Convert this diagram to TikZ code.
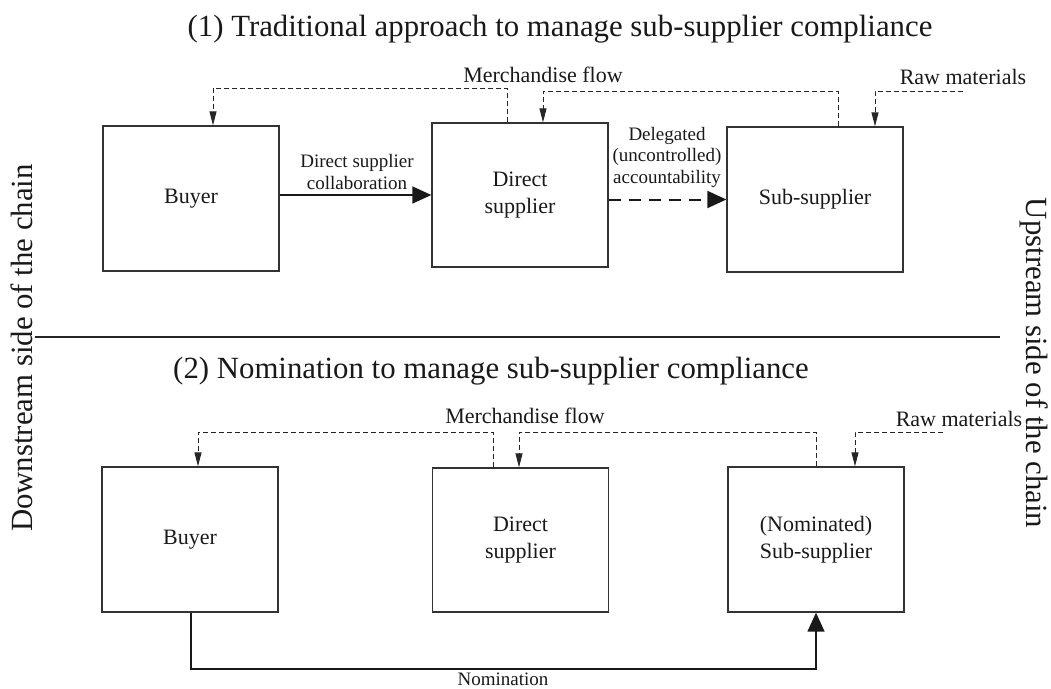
\documentclass[tikz,border=0pt]{standalone}
\usepackage{fontspec}
\setmainfont{Liberation Serif}
\usetikzlibrary{arrows.meta}
\begin{document}
\begin{tikzpicture}[x=1pt,y=-1pt,
  box/.style={draw=black!80, line width=1.3pt, minimum width=176pt, minimum height=145pt,
    inner sep=0pt, align=center, text=black!90, font=\fontsize{22}{27}\selectfont},
  merch/.style={draw=black!85, line width=1pt, dash pattern=on 5pt off 3pt,
    -{Triangle[length=14pt,width=7pt]}},
  rawline/.style={draw=black!85, line width=1pt, dash pattern=on 5pt off 3pt,
    -{Triangle[length=14pt,width=7pt]}},
  solidarr/.style={draw=black!90, line width=1.5pt, -{Triangle[length=19pt,width=17pt]}},
  dasharr/.style={draw=black!90, line width=2pt, dash pattern=on 12pt off 8pt,
    -{Triangle[length=19pt,width=17pt]}},
  lbl/.style={align=center, inner sep=0pt, text=black!90, font=\fontsize{19}{21.5}\selectfont},
  mlbl/.style={inner sep=0pt, text=black!90, font=\fontsize{22}{26}\selectfont},
  ttl/.style={inner sep=0pt, text=black!90, font=\fontsize{30.8}{36}\selectfont},
]
\useasboundingbox (0,0) rectangle (1051,688);

% titles
\node[ttl] (t1) at (560,29) {(1) Traditional approach to manage sub-supplier compliance};
\node[ttl] (t2) at (491,371) {(2) Nomination to manage sub-supplier compliance};

% side labels
\node[ttl, rotate=90] (down) at (22,348) {Downstream side of the chain};
\node[ttl, rotate=-90] (up) at (1034,363) {Upstream side of the chain};

% separator
\coordinate (sepL) at (35,337);
\coordinate (sepR) at (1000,337);
\draw[line width=1.2pt, black!85] (sepL) -- (sepR);

% ---- part 1 ----
\node[box] (b1) at (191,198.5) {Buyer};
\node[box, minimum height=144pt] (d1) at (520,195) {Direct\\supplier};
\node[box] (s1) at (815,199.5) {Sub-supplier};

\draw[solidarr] (b1.east |- d1.center) -- (d1.west |- d1.center);
\draw[dasharr] (d1.east |- s1.center) -- (s1.west);

\node[lbl] (l1) at (357,172) {Direct supplier\\collaboration};
\node[lbl] (l2) at (667,157) {Delegated\\(uncontrolled)\\accountability};

\coordinate (a1) at (507,88);
\coordinate (a2) at (213,88);
\draw[merch] (a1 |- d1.north) -- (a1) -- (a2) -- (a2 |- b1.north);
\coordinate (a3) at (838,91);
\coordinate (a4) at (543,91);
\draw[merch] (a3 |- s1.north) -- (a3) -- (a4) -- (a4 |- d1.north);
\coordinate (r1) at (963,91);
\coordinate (r2) at (875,91);
\draw[rawline] (r1) -- (r2) -- (r2 |- s1.north);

\node[mlbl] (m1) at (543,75) {Merchandise flow};
\node[mlbl] (rm1) at (963,77) {Raw materials};

% ---- part 2 ----
\node[box] (b2) at (190,539.5) {Buyer};
\node[box, minimum height=144pt] (d2) at (520.5,540) {Direct\\supplier};
\node[box] (s2) at (816,539.5) {(Nominated)\\Sub-supplier};

\coordinate (c1) at (493,432);
\coordinate (c2) at (198,432);
\draw[merch] (c1 |- d2.north) -- (c1) -- (c2) -- (c2 |- b2.north);
\coordinate (c3) at (816,432);
\coordinate (c4) at (519,432);
\draw[merch] (c3 |- s2.north) -- (c3) -- (c4) -- (c4 |- d2.north);
\coordinate (q1) at (943,432);
\coordinate (q2) at (855,432);
\draw[rawline] (q1) -- (q2) -- (q2 |- s2.north);

\node[mlbl] (m2) at (525,416) {Merchandise flow};
\node[mlbl] (rm2) at (959,419) {Raw materials};

\coordinate (n1) at (191,669);
\coordinate (n2) at (816,669);
\draw[solidarr] (n1 |- b2.south) -- (n1) -- (n2) -- (n2 |- s2.south);
\node[lbl] (nom) at (503,679) {Nomination};
\end{tikzpicture}
\end{document}
